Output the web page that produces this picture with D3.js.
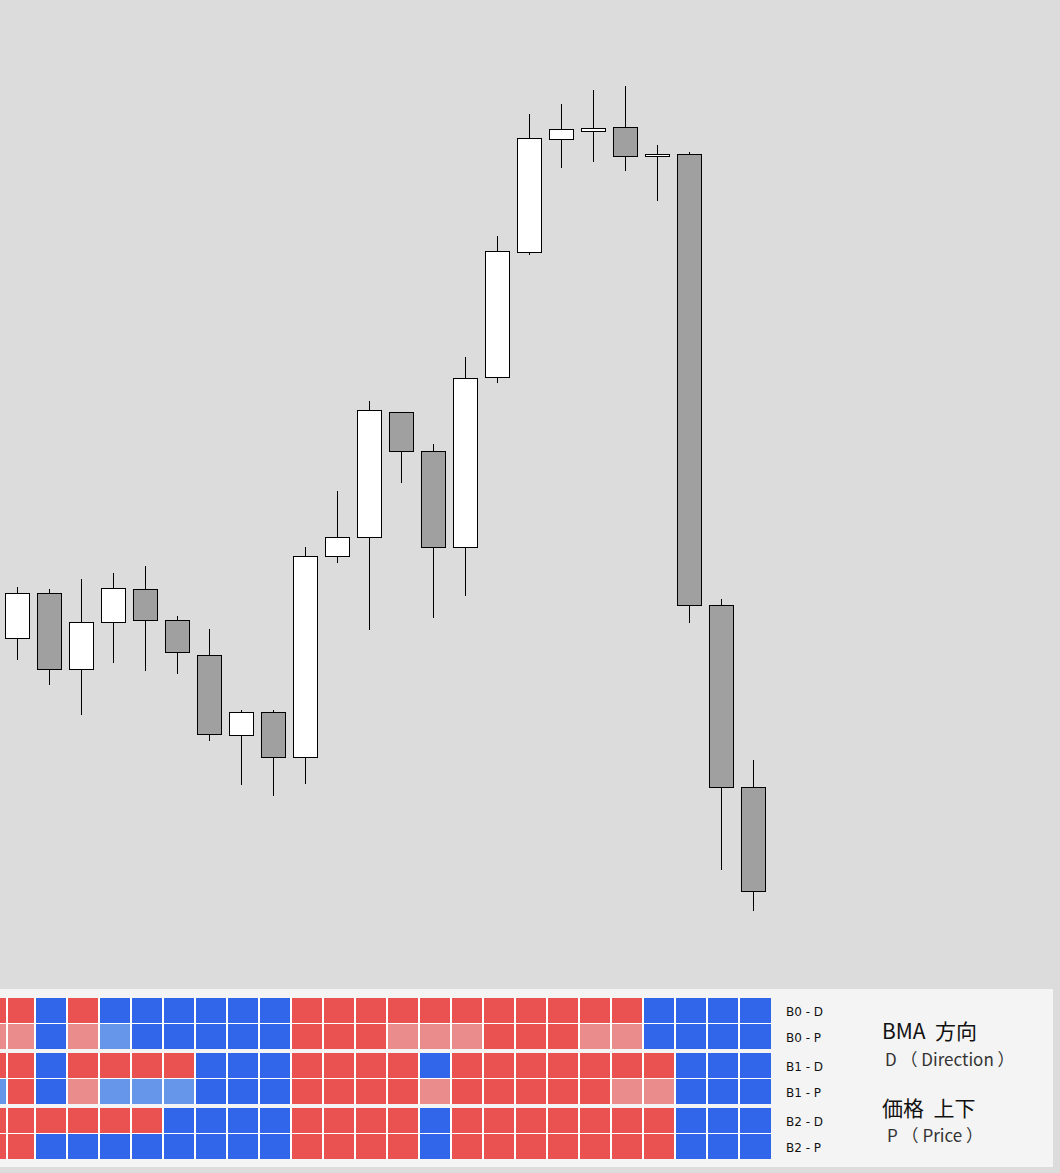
<!DOCTYPE html>
<html>
<head>
<meta charset="utf-8">
<script src="https://cdn.jsdelivr.net/npm/d3@7"></script>
<style>
  html, body { margin: 0; padding: 0; background: #dcdcdc; }
  svg { display: block; }
</style>
</head>
<body>
<svg id="chart" width="1060" height="1173"></svg>
<script>
// ---------- DATA ----------
const opens  = [153.62,154.07,153.31,153.78,154.11,153.80,153.45,152.65,152.88,152.43,154.44,154.63,155.88,155.49,154.53,156.23,157.48,158.61,158.69,158.73,158.44,158.46,153.95,152.13];
const highs  = [154.14,154.12,154.22,154.28,154.35,153.85,153.72,152.91,152.91,154.54,155.10,156.00,155.88,155.57,156.44,157.65,158.87,158.97,159.11,159.15,158.56,158.49,154.02,152.41];
const lows   = [153.41,153.16,152.86,153.38,153.30,153.27,152.60,152.16,152.05,152.17,154.38,153.71,155.18,153.83,154.05,156.18,157.46,158.33,158.39,158.30,158.00,153.78,151.31,150.90];
const closes = [154.07,153.31,153.78,154.12,153.80,153.48,152.66,152.88,152.43,154.44,154.63,155.90,155.49,154.53,156.22,157.49,158.62,158.71,158.72,158.44,158.46,153.95,152.13,151.09];

// heatmap: one column per bar, plus one partially visible column at the left (index -1)
// R = up (strong), r = up (weak), B = down (strong), b = down (weak)
const rowLabels = ["B0 - D", "B0 - P", "B1 - D", "B1 - P", "B2 - D", "B2 - P"];
const heatRows = [
  "RRBRBBBBBBRRRRRRRRRRRBBBB",
  "rrBrbBBBBBRRRrrrRRRrrBBBB",
  "RRBRRRRBBBRRRRBRRRRRRRBBB",
  "bRBrbbbBBBRRRRrRRRRRrrBBB",
  "RRRRRRBBBBRRRRBRRRRRRRBBB",
  "RRBBBBBBBBRRRRBRRRRRRRBBB"
];
const stateColors = { R: "#ea5252", r: "#ea8c8c", B: "#3266ea", b: "#6696ea" };

const legendTitles = ["BMA\u00a0\u00a0方向", "価格\u00a0\u00a0上下"];
const legendSubs   = ["D （ Direction ）", "P （ Price ）"];

// ---------- SCALES ----------
const svg = d3.select("#chart");
const n = opens.length;
const x = d3.scaleLinear().domain([0, n - 1]).range([17.5, 17.5 + 32 * (n - 1)]);
const step = x(1) - x(0);
const bodyHalf = step * 0.375;
const y = d3.scaleLinear().domain([150, 160]).range([1000.5, 0.5]);

svg.append("rect").attr("width", 1060).attr("height", 1173).attr("fill", "#dcdcdc");

// ---------- CANDLES ----------
const candles = d3.range(n).map(i => ({ i, o: opens[i], h: highs[i], l: lows[i], c: closes[i] }));
const g = svg.append("g").attr("shape-rendering", "crispEdges");
g.selectAll("line.wick").data(candles).join("line")
  .attr("class", "wick")
  .attr("x1", d => x(d.i)).attr("x2", d => x(d.i))
  .attr("y1", d => y(d.h)).attr("y2", d => y(d.l))
  .attr("stroke", "#000").attr("stroke-width", 1);
g.selectAll("rect.body").data(candles).join("rect")
  .attr("class", "body")
  .attr("x", d => x(d.i) - bodyHalf)
  .attr("width", bodyHalf * 2)
  .attr("y", d => y(Math.max(d.o, d.c)))
  .attr("height", d => Math.max(1, Math.abs(y(d.o) - y(d.c))))
  .attr("fill", d => d.c >= d.o ? "#ffffff" : "#a0a0a0")
  .attr("stroke", "#000").attr("stroke-width", 1);

// ---------- HEATMAP PANEL ----------
const panelTop = 989, panelBottom = 1167, panelRight = 1053;
svg.append("rect").attr("x", 0).attr("y", panelTop)
  .attr("width", panelRight).attr("height", panelBottom - panelTop)
  .attr("fill", "#f4f4f4");

const pairScale = d3.scaleBand().domain([0, 1, 2]).range([998, 998 + 54 * 3]).paddingInner(3 / 54).paddingOuter(0);
const rowH = 25;
const rowTop = r => pairScale(Math.floor(r / 2)) + (r % 2) * (rowH + 1);
const colLeft = k => k < 0 ? 0 : (k === 0 ? x(0) - 9.5 : x(k) - 13.5);
const colRight = k => k < 0 ? x(0) - 10.5 : x(k) + 17.5;

const hg = svg.append("g").attr("shape-rendering", "crispEdges");
// white separators behind each pair
[0, 1, 2].forEach(p => {
  hg.append("rect").attr("x", 0).attr("y", pairScale(p))
    .attr("width", colRight(n - 1)).attr("height", rowH * 2 + 1)
    .attr("fill", "#ffffff");
});
const cells = [];
heatRows.forEach((row, r) => {
  row.split("").forEach((s, j) => cells.push({ r, k: j - 1, s }));
});
hg.selectAll("rect.cell").data(cells).join("rect")
  .attr("class", "cell")
  .attr("x", d => colLeft(d.k))
  .attr("width", d => colRight(d.k) - colLeft(d.k) - (d.k === n - 1 ? 0 : 1))
  .attr("y", d => rowTop(d.r))
  .attr("height", rowH)
  .attr("fill", d => stateColors[d.s]);

// row labels
svg.selectAll("text.rowlab").data(rowLabels).join("text")
  .attr("class", "rowlab")
  .attr("x", 786)
  .attr("y", (d, r) => rowTop(r) + rowH / 2 + 5)
  .attr("font-family", "'DejaVu Sans', Verdana, sans-serif")
  .attr("font-size", 12)
  .attr("fill", "#111")
  .text(d => d);

// legend
const legendFont = "'Noto Sans CJK JP', 'Noto Sans', sans-serif";
svg.selectAll("text.ltitle").data(legendTitles).join("text")
  .attr("class", "ltitle")
  .attr("x", 882)
  .attr("y", (d, i) => 1039 + i * 77)
  .attr("font-family", legendFont)
  .attr("font-size", 21)
  .attr("fill", "#111")
  .text(d => d);
svg.selectAll("text.lsub").data(legendSubs).join("text")
  .attr("class", "lsub")
  .attr("x", (d, i) => 885 + i * 2)
  .attr("y", (d, i) => 1066 + i * 76)
  .attr("font-family", legendFont)
  .attr("font-size", 17)
  .attr("fill", "#333")
  .text(d => d);
</script>
</body>
</html>
